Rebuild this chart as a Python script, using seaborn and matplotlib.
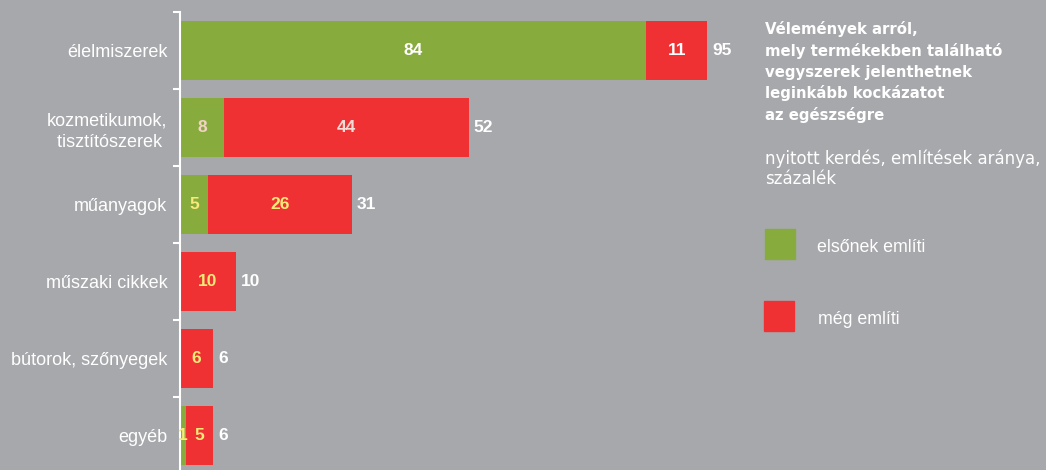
import matplotlib
matplotlib.use("Agg")
import matplotlib.pyplot as plt
import seaborn as sns
import pandas as pd
import numpy as np

# --- data ---
categories = ["élelmiszerek", "kozmetikumok,\ntisztítószerek ", "műanyagok",
              "műszaki cikkek", "bútorok, szőnyegek", "egyéb"]
first_mention = [84, 8, 5, 0, 0, 1]
other_mention = [11, 44, 26, 10, 6, 5]
totals = [95, 52, 31, 10, 6, 6]

first_label_colors = ["white", "#f2d3c6", "#f7ea78", None, None, "#f7ea78"]
other_label_colors = ["white", "#f0dcd6", "#f7ea78", "#f7ea78", "#f7ea78", "#f7ea78"]

BG = "#a7a8ac"
GREEN = "#88ab3e"
RED = "#ef3133"

df = pd.DataFrame({"cat": categories, "first": first_mention,
                   "other": other_mention, "total": totals})

sns.set_style("white")
plt.rcParams["font.family"] = ["Liberation Sans", "DejaVu Sans"]

fig = plt.figure(figsize=(10.46, 4.70), dpi=100, facecolor=BG)
ax = fig.add_axes([180 / 1046, -4 / 470, 555 / 1046, 462 / 470])
ax.set_facecolor(BG)

# stacked bars: full total in red, first-mention in green on top
sns.barplot(data=df, x="total", y="cat", color=RED, width=0.77,
            saturation=1, ax=ax, orient="h", linewidth=0)
sns.barplot(data=df, x="first", y="cat", color=GREEN, width=0.77,
            saturation=1, ax=ax, orient="h", linewidth=0)

ax.set_xlim(0, 100)
ax.set_ylim(5.5, -0.5)
ax.set_xlabel("")
ax.set_ylabel("")
ax.xaxis.set_visible(False)
for s in ["top", "right", "bottom"]:
    ax.spines[s].set_visible(False)
ax.spines["left"].set_color("white")
ax.spines["left"].set_linewidth(1.5)

ax.set_yticks(range(len(categories)))
ax.set_yticklabels(categories, fontsize=13, color="white", linespacing=1.35)
ax.tick_params(axis="y", which="major", left=False, length=0, pad=9)
ax.set_yticks(np.arange(-0.5, 6.0, 1.0), minor=True)
ax.tick_params(axis="y", which="minor", left=True, direction="out",
               length=5, width=1.5, color="white")

# value labels
for i in range(len(categories)):
    f, o, t = first_mention[i], other_mention[i], totals[i]
    if f > 0:
        ax.text(f / 2, i, str(f), ha="center", va="center", fontsize=12.5,
                fontweight="bold", color=first_label_colors[i])
    ax.text(f + o / 2, i, str(o), ha="center", va="center", fontsize=12.5,
            fontweight="bold", color=other_label_colors[i])
    ax.text(t + 0.9, i, str(t), ha="left", va="center", fontsize=12.5,
            fontweight="bold", color="white")

# title block on the right
fig.text(765 / 1046, 1 - 21 / 470,
         "Vélemények arról,\nmely termékekben található\nvegyszerek jelenthetnek\n"
         "leginkább kockázatot\naz egészségre",
         ha="left", va="top", fontsize=10.7, fontweight="bold", color="white",
         family="DejaVu Sans", linespacing=1.46)
fig.text(765 / 1046, 1 - 149 / 470,
         "nyitott kerdés, említések aránya,\nszázalék",
         ha="left", va="top", fontsize=12, color="white",
         family="DejaVu Sans", linespacing=1.15)

# legend squares
fig.patches.append(plt.Rectangle((765 / 1046, 1 - 259 / 470), 30 / 1046, 30 / 470,
                                 transform=fig.transFigure, color=GREEN))
fig.patches.append(plt.Rectangle((764 / 1046, 1 - 331 / 470), 30 / 1046, 30 / 470,
                                 transform=fig.transFigure, color=RED))
fig.text(817 / 1046, 1 - 247 / 470, "elsőnek említi", ha="left", va="center",
         fontsize=12.8, color="white")
fig.text(818 / 1046, 1 - 319 / 470, "még említi", ha="left", va="center",
         fontsize=12.8, color="white")

fig.savefig("out.png", dpi=100, facecolor=BG)
